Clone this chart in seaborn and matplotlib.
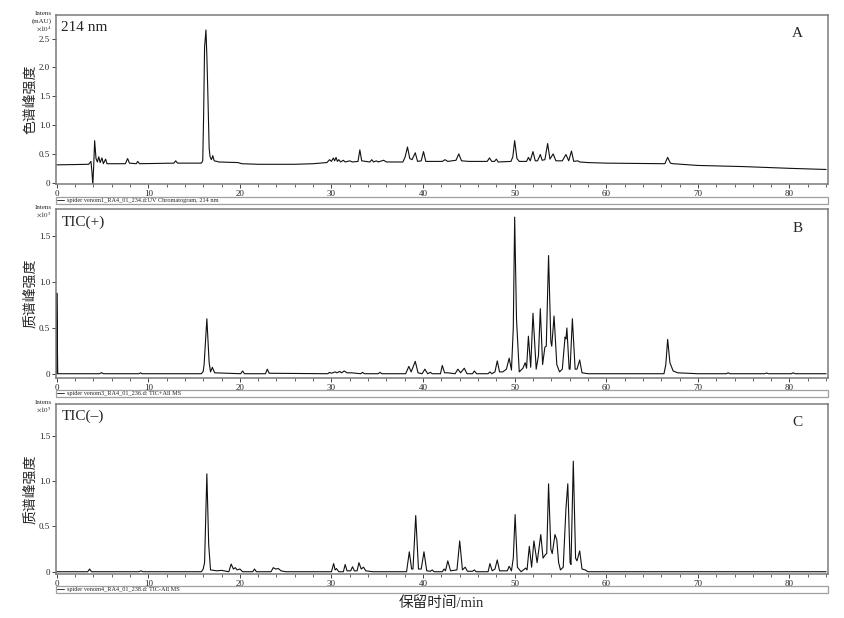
import seaborn as sns
import matplotlib.pyplot as plt
from matplotlib.ticker import MultipleLocator, FuncFormatter

# UV chromatogram, 214 nm (x10^4 mAU)
uv_time = [0, 3.5, 3.75, 3.85, 3.95, 4.05, 4.15, 4.3, 4.45, 4.6, 4.75, 4.95, 5.1, 5.35, 5.5,
           7.5, 7.75, 7.95, 8.7, 8.85, 9.05, 12.8, 13.0, 13.2, 15.8, 15.95, 16.05, 16.15, 16.3,
           16.4, 16.5, 16.65, 16.75, 16.9, 17.05, 17.2, 17.5, 17.7, 19.8, 20.2, 22, 26, 28, 29.5,
           29.8, 30.0, 30.2, 30.35, 30.5, 30.65, 30.8, 31.0, 31.3, 31.5, 32.0, 32.3, 32.9, 33.1,
           33.3, 34.2, 34.4, 34.6, 34.9, 35.1, 35.7, 36.0, 37.8, 38.05, 38.3, 38.55, 38.8, 39.15,
           39.4, 39.8, 40.05, 40.3, 42.1, 42.4, 42.7, 43.6, 43.9, 44.2, 45.0, 47.0, 47.25, 47.5,
           47.8, 48.0, 48.2, 49.6, 49.8, 50.0, 50.25, 50.5, 51.3, 51.5, 51.7, 52.0, 52.25, 52.5,
           52.8, 53.0, 53.3, 53.6, 53.85, 54.2, 54.5, 55.2, 55.6, 55.9, 56.2, 56.45, 56.9, 57.1,
           58, 60, 66.4, 66.7, 67.0, 67.3, 70, 75, 80, 84]
uv_int = [0.31, 0.32, 0.37, 0.2, -0.04, 0.3, 0.73, 0.42, 0.36, 0.45, 0.35, 0.43, 0.33, 0.41, 0.33,
          0.33, 0.42, 0.34, 0.33, 0.37, 0.33, 0.34, 0.38, 0.34, 0.34, 0.38, 1.2, 2.35, 2.65,
          2.2, 1.6, 0.6, 0.45, 0.4, 0.47, 0.38, 0.37, 0.36, 0.35, 0.33, 0.32, 0.32, 0.33, 0.35,
          0.40, 0.37, 0.43, 0.38, 0.44, 0.37, 0.40, 0.36, 0.39, 0.36, 0.38, 0.36, 0.37, 0.57,
          0.38, 0.36, 0.40, 0.36, 0.38, 0.36, 0.39, 0.36, 0.36, 0.45, 0.62, 0.42, 0.40, 0.52,
          0.37, 0.38, 0.54, 0.37, 0.37, 0.40, 0.37, 0.39, 0.50, 0.38, 0.37, 0.37, 0.43, 0.37,
          0.37, 0.41, 0.36, 0.37, 0.45, 0.73, 0.42, 0.37, 0.37, 0.44, 0.38, 0.54, 0.38, 0.38,
          0.49, 0.39, 0.40, 0.68, 0.41, 0.50, 0.38, 0.38, 0.49, 0.38, 0.55, 0.37, 0.38, 0.36,
          0.35, 0.34, 0.33, 0.44, 0.34, 0.33, 0.30, 0.28, 0.25, 0.23]

# TIC positive mode (x10^5)
pos_time = [0.0, 0.02, 0.12, 4.7, 4.9, 5.1, 9.0, 9.15, 9.3, 15.8, 16.0, 16.1, 16.4, 16.65, 16.8,
            17.0, 17.25, 20.1, 20.3, 20.5, 22.8, 23.0, 23.2, 29.6, 29.8, 30.0, 30.4, 30.6, 30.9,
            31.1, 31.4, 31.7, 32.2, 33.2, 33.4, 33.6, 35.1, 35.3, 35.5, 38.1, 38.45, 38.7, 39.15,
            39.45, 39.9, 40.2, 40.5, 40.8, 41.0, 41.9, 42.1, 42.35, 42.7, 43.5, 43.8, 44.1, 44.5,
            44.8, 45.4, 45.6, 45.85, 47.1, 47.3, 47.5, 47.85, 48.1, 48.35, 48.7, 49.1, 49.4, 49.65,
            49.85, 50.0, 50.2, 50.5, 50.9, 51.15, 51.3, 51.5, 51.75, 52.0, 52.35, 52.6, 52.8, 53.05,
            53.3, 53.45, 53.7, 53.95, 54.05, 54.3, 54.6, 54.9, 55.2, 55.5, 55.6, 55.7, 55.95, 56.05,
            56.3, 56.6, 56.8, 57.1, 57.35, 58, 66.3, 66.5, 66.7, 66.95, 67.3, 67.8, 70, 73.1, 73.3,
            73.5, 77.3, 77.5, 77.7, 80.2, 80.4, 80.6, 84]
pos_int = [0.0, 0.88, 0.0, 0.0, 0.012, 0.0, 0.0, 0.01, 0.0, 0.0, 0.025, 0.1, 0.60, 0.12, 0.02,
           0.07, 0.01, 0.0, 0.03, 0.0, 0.0, 0.05, 0.005, 0.0, 0.015, 0.005, 0.02, 0.01, 0.025,
           0.01, 0.03, 0.01, 0.01, 0.0, 0.015, 0.0, 0.0, 0.015, 0.0, 0.0, 0.08, 0.02, 0.135,
           0.01, 0.0, 0.05, 0.0, 0.015, 0.0, 0.0, 0.09, 0.01, 0.01, 0.0, 0.05, 0.01, 0.06,
           0.0, 0.0, 0.03, 0.0, 0.0, 0.02, 0.0, 0.02, 0.14, 0.02, 0.02, 0.05, 0.17, 0.04,
           0.5, 1.71, 0.6, 0.02, 0.06, 0.12, 0.06, 0.41, 0.07, 0.66, 0.05, 0.2, 0.71, 0.1,
           0.29, 0.3, 1.29, 0.35, 0.3, 0.63, 0.1, 0.02, 0.05, 0.4, 0.38, 0.50, 0.05, 0.05,
           0.60, 0.05, 0.05, 0.15, 0.01, 0.0, 0.0, 0.1, 0.375, 0.12, 0.03, 0.01, 0.0, 0.0, 0.01,
           0.0, 0.0, 0.008, 0.0, 0.0, 0.01, 0.0, 0.0]

# TIC negative mode (x10^5)
neg_time = [0, 3.4, 3.6, 3.8, 9.0, 9.2, 9.4, 15.8, 16.0, 16.15, 16.4, 16.6, 16.8, 17.5, 18.0,
            18.8, 19.05, 19.3, 19.5, 19.7, 20.0, 20.3, 21.4, 21.6, 21.8, 23.4, 23.65, 23.9, 24.2,
            24.5, 25, 30.0, 30.24, 30.4, 30.55, 30.8, 31.3, 31.5, 31.7, 32.1, 32.3, 32.5, 32.8,
            33.0, 33.25, 33.5, 33.75, 34.5, 38.2, 38.5, 38.75, 38.9, 39.2, 39.5, 39.8, 40.1, 40.4,
            40.8, 41.0, 41.2, 42.1, 42.3, 42.45, 42.7, 43.0, 43.7, 44.0, 44.3, 44.6, 44.85, 45.4,
            45.6, 45.8, 47.1, 47.3, 47.55, 47.85, 48.1, 48.35, 49.2, 49.4, 49.65, 49.85, 50.05,
            50.3, 50.7, 51.2, 51.35, 51.6, 51.85, 52.1, 52.45, 52.85, 53.1, 53.36, 53.5, 53.7,
            53.95, 54.1, 54.4, 54.6, 54.8, 55.0, 55.3, 55.6, 55.8, 56.05, 56.15, 56.4, 56.65,
            56.8, 57.1, 57.35, 57.7, 58, 84]
neg_int = [0.0, 0.0, 0.03, 0.0, 0.0, 0.01, 0.0, 0.0, 0.03, 0.1, 1.08, 0.3, 0.02, 0.01, 0.015,
           0.0, 0.085, 0.03, 0.045, 0.02, 0.03, 0.0, 0.0, 0.03, 0.0, 0.0, 0.045, 0.03, 0.035,
           0.01, 0.0, 0.0, 0.09, 0.02, 0.035, 0.0, 0.0, 0.08, 0.01, 0.01, 0.055, 0.01, 0.01,
           0.10, 0.03, 0.05, 0.01, 0.0, 0.0, 0.22, 0.03, 0.03, 0.62, 0.03, 0.03, 0.22, 0.01,
           0.005, 0.02, 0.0, 0.0, 0.03, 0.01, 0.12, 0.01, 0.02, 0.34, 0.02, 0.05, 0.005, 0.005,
           0.02, 0.0, 0.0, 0.09, 0.01, 0.03, 0.13, 0.01, 0.01, 0.06, 0.01, 0.15, 0.63,
           0.05, 0.0, 0.04, 0.02, 0.28, 0.05, 0.34, 0.1, 0.41, 0.15, 0.19, 0.2, 0.97,
           0.25, 0.2, 0.41, 0.35, 0.1, 0.02, 0.05, 0.70, 0.97, 0.1, 0.08, 1.22, 0.15,
           0.12, 0.23, 0.03, 0.02, 0.0, 0.0]

panel_tags = ["214 nm", "TIC(+)", "TIC(–)"]
panel_letters = ["A", "B", "C"]
y_labels = ["色谱峰强度", "质谱峰强度", "质谱峰强度"]
unit_labels = [["Intens", "(mAU)", r"$\times10^4$"], ["Intens", r"$\times10^5$"], ["Intens", r"$\times10^5$"]]
legend_labels = ["spider venom1_RA4_01_234.d:UV Chromatogram, 214 nm",
                 "spider venom3_RA4_01_236.d: TIC+All MS",
                 "spider venom4_RA4_01_238.d: TIC-All MS"]
x_ticks = [0, 10, 20, 30, 40, 50, 60, 70, 80]

sns.set_style("ticks")
plt.rcParams["font.family"] = ["Liberation Serif", "Noto Sans CJK SC"]
plt.rcParams["mathtext.fontset"] = "stix"

fig = plt.figure(figsize=(8.44, 6.18), dpi=100)
boxes = [[0.066, 0.7015, 0.915, 0.2743],
         [0.066, 0.3883, 0.915, 0.2730],
         [0.066, 0.0712, 0.915, 0.2750]]
ylims = [(-0.03, 2.91), (-0.047, 1.795), (-0.025, 1.85)]
yticks = [[0, 0.5, 1.0, 1.5, 2.0, 2.5], [0, 0.5, 1.0, 1.5], [0, 0.5, 1.0, 1.5]]
traces = [(uv_time, uv_int), (pos_time, pos_int), (neg_time, neg_int)]

fmt = FuncFormatter(lambda v, p: "0" if abs(v) < 1e-9 else f"{v:.1f}")

for i, box in enumerate(boxes):
    ax = fig.add_axes(box)
    t, v = traces[i]
    sns.lineplot(x=t, y=v, ax=ax, color="#111111", linewidth=0.8, sort=False,
                 estimator=None, label=legend_labels[i])
    ax.set_xlim(-0.1, 84.2)
    ax.set_ylim(*ylims[i])
    ax.set_xticks(x_ticks)
    ax.xaxis.set_minor_locator(MultipleLocator(2))
    ax.set_yticks(yticks[i])
    ax.yaxis.set_major_formatter(fmt)
    ax.tick_params(which="major", direction="out", length=3, width=0.6, labelsize=6.5, pad=1)
    ax.tick_params(which="minor", direction="out", length=1.8, width=0.5)
    for s in ax.spines.values():
        s.set_color("#7a7a7a")
        s.set_linewidth(1.1)
    ax.set_ylabel(y_labels[i], fontsize=10, labelpad=1)
    ax.set_xlabel("")

    leg = ax.legend(loc="upper left", bbox_to_anchor=(0, -0.072, 1, 0.001), mode="expand",
                    borderaxespad=0, fontsize=4.5, handlelength=1.2, handletextpad=0.4,
                    borderpad=0.15, fancybox=False, frameon=True)
    leg.get_frame().set_edgecolor("#888888")
    leg.get_frame().set_linewidth(0.9)
    for line in leg.get_lines():
        line.set_linewidth(0.6)

    ax.annotate(panel_tags[i], xy=(0, 1), xycoords="axes fraction", xytext=(4, -9),
                textcoords="offset points", ha="left", va="center", fontsize=11)
    ax.annotate(panel_letters[i], xy=(1, 1), xycoords="axes fraction", xytext=(-22, -13.5),
                textcoords="offset points", ha="center", va="center", fontsize=11)
    for k, u in enumerate(unit_labels[i]):
        ax.annotate(u, xy=(0, 1), xycoords="axes fraction", xytext=(-2.5, 1 - k * 5.5),
                    textcoords="offset points", ha="right", va="center", fontsize=5)

fig.text(0.523, 1 - 603 / 618, "保留时间/min", ha="center", va="center", fontsize=10.5)

fig.savefig("out.png", dpi=100)
